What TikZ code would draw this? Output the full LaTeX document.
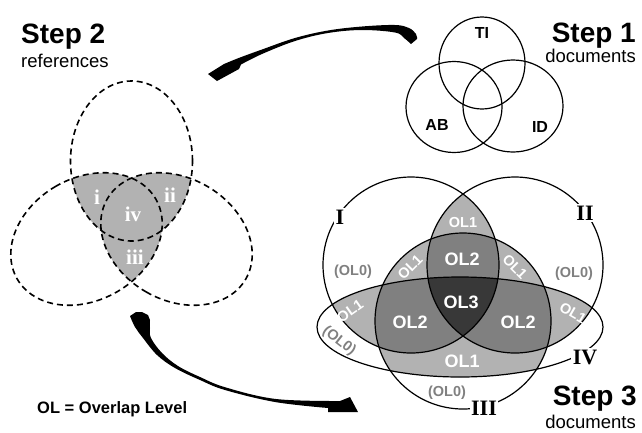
\documentclass[tikz,border=0pt]{standalone}
\usepackage{fontspec}
\setmainfont{Liberation Sans}
\newfontfamily\serifb{Liberation Serif}
\definecolor{olone}{gray}{0.70}
\definecolor{oltwo}{gray}{0.50}
\definecolor{olthree}{gray}{0.22}
\definecolor{zerogray}{gray}{0.50}
\begin{document}
\begin{tikzpicture}[x=1pt,y=-1pt,
  venn/.style={draw=black, line width=1.2pt},
  dvenn/.style={draw=black, line width=1.6pt, dash pattern=on 6pt off 4pt},
  olbig/.style={text=white, font=\bfseries\fontsize{18}{18}\selectfont, inner sep=0pt},
  olsmall/.style={text=white, font=\bfseries\fontsize{14.5}{14.5}\selectfont, inner sep=0pt},
  olzero/.style={text=zerogray, font=\bfseries\fontsize{14.5}{14.5}\selectfont, inner sep=0pt},
  roman/.style={font=\serifb\bfseries\fontsize{22}{22}\selectfont, fill=white, inner sep=1.5pt},
  romsmall/.style={text=white, font=\serifb\bfseries\fontsize{21}{21}\selectfont, inner sep=0pt},
  setlab/.style={font=\bfseries\fontsize{16}{16}\selectfont, inner sep=0pt},
  steplabel/.style={font=\bfseries\fontsize{28}{28}\selectfont, inner sep=0pt},
  sublabel/.style={font=\fontsize{18.5}{18.5}\selectfont, inner sep=0pt},
  swoosh/.style={fill=black, draw=none}]
\useasboundingbox (0,0) rectangle (642,432);

% ---------- Step 2 (dashed Venn) ----------
\def\sA{(131.5,161) ellipse[x radius=61pt, y radius=80pt]}
\def\sB{(86.5,239) ellipse[x radius=61pt, y radius=80pt, rotate=120]}
\def\sC{(176.5,239) ellipse[x radius=61pt, y radius=80pt, rotate=-120]}
\begin{scope}\clip \sA; \fill[olone] \sB; \fill[olone] \sC; \end{scope}
\begin{scope}\clip \sB; \fill[olone] \sC; \end{scope}
\draw[dvenn] \sA;
\draw[dvenn] \sB;
\draw[dvenn] \sC;
\node[romsmall] (ri) at (97,197) {i};
\node[romsmall] (rii) at (170,195) {ii};
\node[romsmall] (riv) at (133,214) {iv};
\node[romsmall] (riii) at (135,257) {iii};

% ---------- Step 1 (solid Venn) ----------
\draw[venn] (482,63) ellipse[x radius=43pt, y radius=46pt];
\draw[venn] (454,107) ellipse[x radius=48pt, y radius=45.5pt];
\draw[venn] (513,106) ellipse[x radius=50pt, y radius=46pt];
\node[setlab] (ti) at (482,33) {TI};
\node[setlab] (ab) at (437,125) {AB};
\node[setlab] (id) at (540,127) {ID};

% ---------- Step 3 (four sets) ----------
\def\cI{(411,265) circle[radius=88pt]}
\def\cII{(515,265) circle[radius=88pt]}
\def\cIII{(463,321) circle[radius=88pt]}
\def\cIV{(460,327) ellipse[x radius=143pt, y radius=50pt]}
\begin{scope}\clip \cI; \fill[olone] \cII; \fill[olone] \cIII; \fill[olone] \cIV; \end{scope}
\begin{scope}\clip \cII; \fill[olone] \cIII; \fill[olone] \cIV; \end{scope}
\begin{scope}\clip \cIII; \fill[olone] \cIV; \end{scope}
\begin{scope}\clip \cI; \clip \cII; \fill[oltwo] \cIII; \fill[oltwo] \cIV; \end{scope}
\begin{scope}\clip \cI; \clip \cIII; \fill[oltwo] \cIV; \end{scope}
\begin{scope}\clip \cII; \clip \cIII; \fill[oltwo] \cIV; \end{scope}
\begin{scope}\clip \cI; \clip \cII; \clip \cIII; \fill[olthree] \cIV; \end{scope}
\draw[venn] \cI;
\draw[venn] \cII;
\draw[venn] \cIII;
\draw[venn] \cIV;
\node[roman] (nI) at (340,217) {I};
\node[roman] (nII) at (585,213) {II};
\node[roman] (nIII) at (484,408) {III};
\node[roman] (nIV) at (585,357) {IV};

\node[olsmall] (o1t) at (463,223) {OL1};
\node[olbig] (o2t) at (462,259) {OL2};
\node[olbig] (o3) at (461,302) {OL3};
\node[olbig] (o2l) at (410,322) {OL2};
\node[olbig] (o2r) at (518,322) {OL2};
\node[olbig] (o1b) at (462,361) {OL1};
\node[olsmall, rotate=45] (o1ul) at (410,267) {OL1};
\node[olsmall, rotate=-45] (o1ur) at (515,267) {OL1};
\node[olsmall, rotate=35] (o1fl) at (350,311) {OL1};
\node[olsmall, rotate=-30] (o1fr) at (573,313) {OL1};
\node[olzero] (z1) at (353,272) {(OL0)};
\node[olzero] (z2) at (574,274) {(OL0)};
\node[olzero, rotate=-38] (z4) at (339,341) {(OL0)};
\node[olzero] (z3) at (447,393) {(OL0)};

% ---------- titles ----------
\node[steplabel, anchor=base west] (s2) at (21,43) {Step 2};
\node[sublabel, anchor=base west] (s2b) at (21,67) {references};
\node[steplabel, anchor=base east] (s1) at (636,42) {Step 1};
\node[sublabel, anchor=base east] (s1b) at (636,62) {documents};
\node[steplabel, anchor=base east] (s3) at (637,405) {Step 3};
\node[sublabel, anchor=base east] (s3b) at (636,428) {documents};
\node[font=\bfseries\fontsize{16.5}{16.5}\selectfont, inner sep=0pt, anchor=base west] (ol) at (37,413) {OL = Overlap Level};

% ---------- swoosh arrows ----------
\fill[swoosh] (208,74) -- (224,64)
  -- plot[smooth, tension=0.6] coordinates {(224,64) (240,57.5) (262,49.5) (295,38) (328,30.5) (362,26.5) (395,25) (409,28) (416,34) (417,39)}
  -- (411,44)
  -- plot[smooth, tension=0.6] coordinates {(411,44) (404,38) (395,32.5) (362,30) (328,33) (295,41) (262,54) (241,64.5)}
  -- (239,69) -- (217,81) -- cycle;
\fill[swoosh] (136,312) -- (130,316)
  -- plot[smooth, tension=0.6] coordinates {(130,316) (135,327) (143,338) (157,355) (175,368) (200,380) (225,390) (275,402) (328,408)}
  -- (328,412) -- (358,412) -- (350,397) -- (340,401)
  -- plot[smooth, tension=0.6] coordinates {(340,401) (276,399) (226,387.5) (200,377) (178,366) (162,353) (151,338) (150,328) (150,320)}
  -- (148,315) -- (142,312) -- cycle;
\end{tikzpicture}
\end{document}
